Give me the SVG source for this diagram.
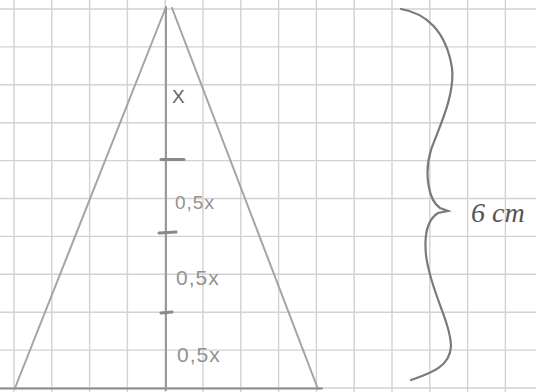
<svg xmlns="http://www.w3.org/2000/svg" width="536" height="392" viewBox="0 0 536 392">
<style>
.grid line{stroke:#d2d2d2;stroke-width:1.4}
.pencil{stroke:#a4a4a4;stroke-width:2;fill:none;stroke-linecap:round}
.dark{stroke:#7a7a7a;stroke-width:2.2;fill:none;stroke-linecap:round}
.tick{stroke:#8a8a8a;stroke-width:3;stroke-linecap:round}
.lbl{font-family:"Liberation Sans",Arial,sans-serif;fill:#929292;font-size:21px;letter-spacing:1px}
.big{font-family:"Liberation Serif","Times New Roman",serif;font-style:italic;fill:#555;font-size:28px}
</style>
<rect width="536" height="392" fill="#ffffff"/>
<g class="grid">
<line x1="14" y1="0" x2="14" y2="392"/><line x1="51.8" y1="0" x2="51.8" y2="392"/><line x1="89.6" y1="0" x2="89.6" y2="392"/><line x1="127.4" y1="0" x2="127.4" y2="392"/><line x1="165.2" y1="0" x2="165.2" y2="392"/><line x1="203" y1="0" x2="203" y2="392"/><line x1="240.8" y1="0" x2="240.8" y2="392"/><line x1="278.6" y1="0" x2="278.6" y2="392"/><line x1="316.4" y1="0" x2="316.4" y2="392"/><line x1="354.2" y1="0" x2="354.2" y2="392"/><line x1="392" y1="0" x2="392" y2="392"/><line x1="429.8" y1="0" x2="429.8" y2="392"/><line x1="467.6" y1="0" x2="467.6" y2="392"/><line x1="505.4" y1="0" x2="505.4" y2="392"/>
<line x1="0" y1="9" x2="536" y2="9"/><line x1="0" y1="46.9" x2="536" y2="46.9"/><line x1="0" y1="84.8" x2="536" y2="84.8"/><line x1="0" y1="122.7" x2="536" y2="122.7"/><line x1="0" y1="160.6" x2="536" y2="160.6"/><line x1="0" y1="198.5" x2="536" y2="198.5"/><line x1="0" y1="236.4" x2="536" y2="236.4"/><line x1="0" y1="274.3" x2="536" y2="274.3"/><line x1="0" y1="312.2" x2="536" y2="312.2"/><line x1="0" y1="350.1" x2="536" y2="350.1"/><line x1="0" y1="388" x2="536" y2="388"/>
</g>
<g id="triangle">
<line class="pencil" x1="166" y1="7" x2="15" y2="388"/>
<line class="pencil" x1="172" y1="8" x2="318" y2="389"/>
<line class="dark" x1="0" y1="388.5" x2="322" y2="388.5" style="stroke:#8c8c8c"/>
<line class="pencil" x1="166" y1="7" x2="166" y2="390" style="stroke:#999"/>
</g>
<g id="ticks">
<line class="tick" x1="161" y1="159.5" x2="184" y2="159.5"/>
<line class="tick" x1="159" y1="233" x2="176" y2="232"/>
<line class="tick" x1="161" y1="313" x2="172" y2="312"/>
</g>
<g id="labels">
<text class="lbl" x="172" y="103" style="fill:#666;font-size:19px;letter-spacing:0">X</text>
<text class="lbl" x="175" y="209" style="font-size:19px">0,5x</text>
<text class="lbl" x="176" y="285">0,5x</text>
<text class="lbl" x="177" y="362">0,5x</text>
</g>
<g id="brace">
<path class="dark" d="M401 9 C425 13 446 30 452 68 C455 95 440 125 431 150 C424 172 428 200 440 208 L448 211 L438 213 C427 220 424 235 426 255 C430 290 450 320 451 346 C450 368 428 374 411 380"/>
<text class="big" x="471" y="222">6 cm</text>
</g>
</svg>
